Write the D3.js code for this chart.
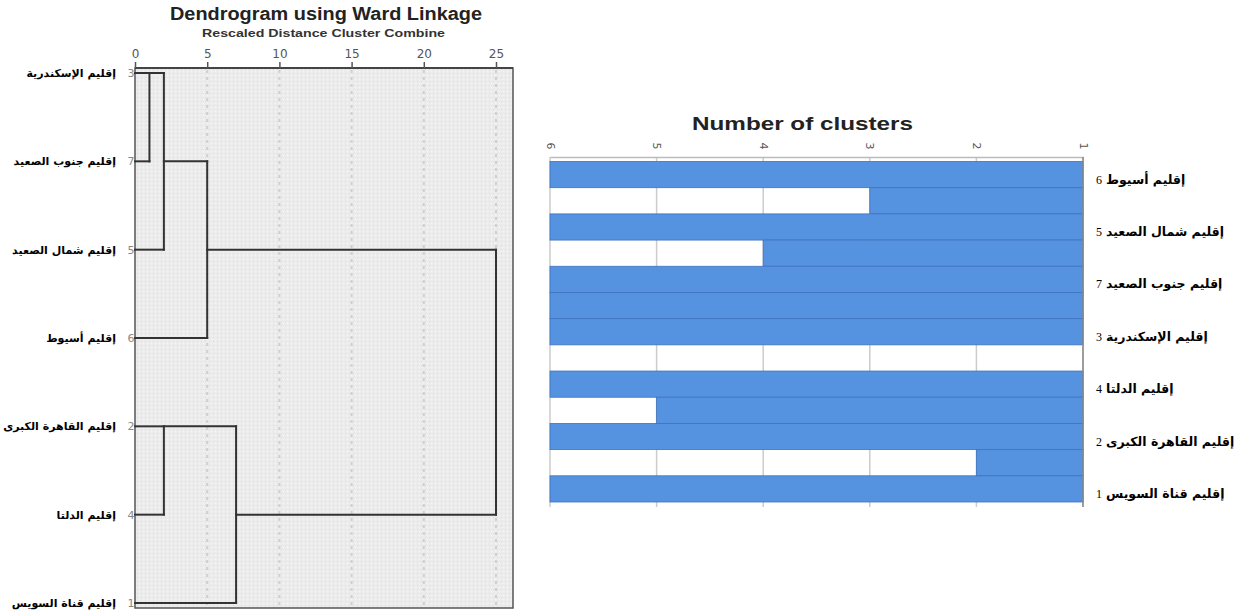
<!DOCTYPE html>
<html>
<head>
<meta charset="utf-8">
<script src="https://cdn.jsdelivr.net/npm/d3@7"></script>
<style>
  html, body { margin: 0; padding: 0; background: #fff; }
  svg { display: block; }
</style>
</head>
<body>
<svg id="chart" width="1235" height="613"></svg>
<script>
// ---- Dendrogram data (Ward linkage, rescaled distances) ----
const leafIds = [3, 7, 5, 6, 2, 4, 1];
const leafLabels = [
  "إقليم الإسكندرية",
  "إقليم جنوب الصعيد",
  "إقليم شمال الصعيد",
  "إقليم أسيوط",
  "إقليم القاهرة الكبرى",
  "إقليم الدلتا",
  "إقليم قناة السويس"
];
// agglomeration steps: joined items (leaf id or earlier step "s#") and distance
const stepA = [3, 2, "s0", "s2", "s1", "s3"];
const stepB = [7, 4, 5, 6, 1, "s4"];
const stepDist = [1, 2, 2, 5, 7, 25];
const distTicks = [0, 5, 10, 15, 20, 25];

// ---- Icicle (number of clusters) data ----
const icicleCases = [6, 5, 7, 3, 4, 2, 1];
const icicleCaseLabels = [
  "إقليم أسيوط",
  "إقليم شمال الصعيد",
  "إقليم جنوب الصعيد",
  "إقليم الإسكندرية",
  "إقليم الدلتا",
  "إقليم القاهرة الكبرى",
  "إقليم قناة السويس"
];
// one value per row: case rows then the gap between neighbouring cases
const icicleRows = ["6", "6|5", "5", "5|7", "7", "7|3", "3", "3|4", "4", "4|2", "2", "2|1", "1"];
const icicleValues = [6, 3, 6, 4, 6, 6, 6, 1, 6, 5, 6, 2, 6];
const clusterTicks = [6, 5, 4, 3, 2, 1];

const svg = d3.select("#chart");
const arabicFont = "'DejaVu Sans', sans-serif";

// =============== Dendrogram ===============
const box = { x0: 135, x1: 513, y0: 68, y1: 608 };
const xD = d3.scaleLinear().domain([0, 25]).range([135, 496]);
const yD = d3.scalePoint().domain(d3.range(leafIds.length)).range([73, 603]);

// stipple background
const defs = svg.append("defs");
const pat = defs.append("pattern").attr("id", "stipple")
  .attr("width", 4).attr("height", 4).attr("patternUnits", "userSpaceOnUse");
pat.append("rect").attr("width", 4).attr("height", 4).attr("fill", "#ececec");
pat.append("rect").attr("x", 1).attr("y", 1).attr("width", 1).attr("height", 1).attr("fill", "#dcdcdc");
pat.append("rect").attr("x", 3).attr("y", 3).attr("width", 1).attr("height", 1).attr("fill", "#f6f6f6");

svg.append("rect")
  .attr("x", box.x0).attr("y", box.y0)
  .attr("width", box.x1 - box.x0).attr("height", box.y1 - box.y0)
  .attr("fill", "url(#stipple)");

// dotted grid lines
svg.append("g").selectAll("line")
  .data(distTicks.slice(1))
  .join("line")
  .attr("x1", d => xD(d)).attr("x2", d => xD(d))
  .attr("y1", box.y0 + 2).attr("y2", box.y1 - 2)
  .attr("stroke", "#cfcfcf").attr("stroke-width", 2)
  .attr("stroke-dasharray", "3,4");

// frame
svg.append("rect")
  .attr("x", box.x0).attr("y", box.y0)
  .attr("width", box.x1 - box.x0).attr("height", box.y1 - box.y0)
  .attr("fill", "none").attr("stroke", "#555").attr("stroke-width", 1.5);

// top axis
const axisTop = d3.axisTop(xD).tickValues(distTicks).tickSize(6).tickPadding(4);
const gAx = svg.append("g").attr("transform", `translate(0,${box.y0})`).call(axisTop);
gAx.select(".domain").attr("stroke", "#444").attr("stroke-width", 2)
  .attr("d", `M${box.x0},0H${box.x1}`);
gAx.selectAll(".tick line").attr("stroke", "#555").attr("stroke-width", 1.5);
gAx.selectAll(".tick text").attr("fill", "#555")
  .style("font", "12px 'DejaVu Sans', sans-serif");

// titles (wide lettering)
svg.append("text").attr("x", 170).attr("y", 20)
  .attr("textLength", 312).attr("lengthAdjust", "spacingAndGlyphs")
  .style("font", "bold 18px 'Liberation Sans', Arial, sans-serif").attr("fill", "#222")
  .text("Dendrogram using Ward Linkage");
svg.append("text").attr("x", 202).attr("y", 37)
  .attr("textLength", 243).attr("lengthAdjust", "spacingAndGlyphs")
  .style("font", "bold 10.5px 'Liberation Sans', Arial, sans-serif").attr("fill", "#333")
  .text("Rescaled Distance Cluster Combine");

// compute node positions (row index) and links
const nodes = {};
leafIds.forEach((id, i) => { nodes[id] = { row: i, x: 0 }; });
const segs = [];
stepA.forEach((a, i) => {
  const na = nodes[a], nb = nodes[stepB[i]];
  const d = stepDist[i];
  segs.push([na.x, na.row, d, na.row]);
  segs.push([nb.x, nb.row, d, nb.row]);
  segs.push([d, na.row, d, nb.row]);
  nodes["s" + i] = { row: Math.floor((na.row + nb.row) / 2), x: d };
});
const rowY = r => yD(r);

svg.append("g").selectAll("line")
  .data(segs)
  .join("line")
  .attr("x1", s => xD(s[0])).attr("y1", s => rowY(s[1]))
  .attr("x2", s => xD(s[2])).attr("y2", s => rowY(s[3]))
  .attr("stroke", "#333").attr("stroke-width", 2)
  .attr("stroke-linecap", "square");

// leaf labels
const gLeaf = svg.append("g");
gLeaf.selectAll("text.num")
  .data(leafIds)
  .join("text").attr("class", "num")
  .attr("x", 131).attr("y", (d, i) => yD(i) + 4)
  .attr("text-anchor", "middle").attr("fill", "#888")
  .style("font", "11px 'DejaVu Sans', sans-serif")
  .text(d => d);
gLeaf.selectAll("text.lab")
  .data(leafLabels)
  .join("text").attr("class", "lab")
  .attr("x", 116).attr("y", (d, i) => yD(i) + 4)
  .attr("text-anchor", "end").attr("fill", "#000")
  .style("font-family", arabicFont).style("font-weight", "bold").style("font-size", "11px")
  .text(d => d);

// =============== Icicle plot ===============
const xI = d3.scaleLinear().domain([6, 1]).range([550, 1083]);
const yI = d3.scaleBand().domain(icicleRows).range([161.5, 502]).padding(0);
const plotTop = 157, plotBottom = 507;

svg.append("text").attr("x", 692).attr("y", 130)
  .attr("textLength", 221).attr("lengthAdjust", "spacingAndGlyphs")
  .style("font", "bold 18px 'Liberation Sans', Arial, sans-serif").attr("fill", "#222")
  .text("Number of clusters");

// grid lines
svg.append("g").selectAll("line")
  .data(clusterTicks)
  .join("line")
  .attr("x1", d => xI(d)).attr("x2", d => xI(d))
  .attr("y1", plotTop).attr("y2", plotBottom)
  .attr("stroke", "#cccccc").attr("stroke-width", 1.5);

// bars grow from 1 cluster toward the value
svg.append("g").selectAll("rect")
  .data(icicleRows)
  .join("rect")
  .attr("x", (d, i) => xI(icicleValues[i]))
  .attr("width", (d, i) => xI(1) - xI(icicleValues[i]))
  .attr("y", d => yI(d))
  .attr("height", yI.bandwidth())
  .attr("fill", "#5592e0")
  .attr("stroke", (d, i) => icicleValues[i] > 1 ? "#3f73bd" : "none")
  .attr("stroke-width", 0.8);

// top axis
const axI = d3.axisTop(xI).tickValues(clusterTicks).tickFormat(d3.format("d")).tickSize(0).tickPadding(0);
const gI = svg.append("g").attr("transform", `translate(0,${plotTop})`).call(axI);
gI.select(".domain").attr("stroke", "#bbb").attr("stroke-width", 1.5);
gI.selectAll(".tick text")
  .attr("fill", "#555")
  .style("font", "11px 'DejaVu Sans', sans-serif")
  .attr("text-anchor", "middle")
  .attr("transform", "translate(0,-11) rotate(90)")
  .attr("dy", "0.35em").attr("y", 0);

// right axis line
svg.append("line")
  .attr("x1", xI(1)).attr("x2", xI(1))
  .attr("y1", plotTop).attr("y2", plotBottom)
  .attr("stroke", "#888").attr("stroke-width", 1.5);

// case labels
const gCase = svg.append("g");
gCase.selectAll("text.num")
  .data(icicleCases)
  .join("text").attr("class", "num")
  .attr("x", 1096).attr("y", d => yI(String(d)) + yI.bandwidth() / 2 + 9)
  .attr("fill", "#000")
  .style("font", "12px 'Liberation Serif', serif")
  .text(d => d);
gCase.selectAll("text.lab")
  .data(icicleCaseLabels)
  .join("text").attr("class", "lab")
  .attr("x", 1106).attr("y", (d, i) => yI(String(icicleCases[i])) + yI.bandwidth() / 2 + 9)
  .attr("fill", "#000")
  .style("font-family", arabicFont).style("font-weight", "bold").style("font-size", "12.5px")
  .text(d => d);
</script>
</body>
</html>
